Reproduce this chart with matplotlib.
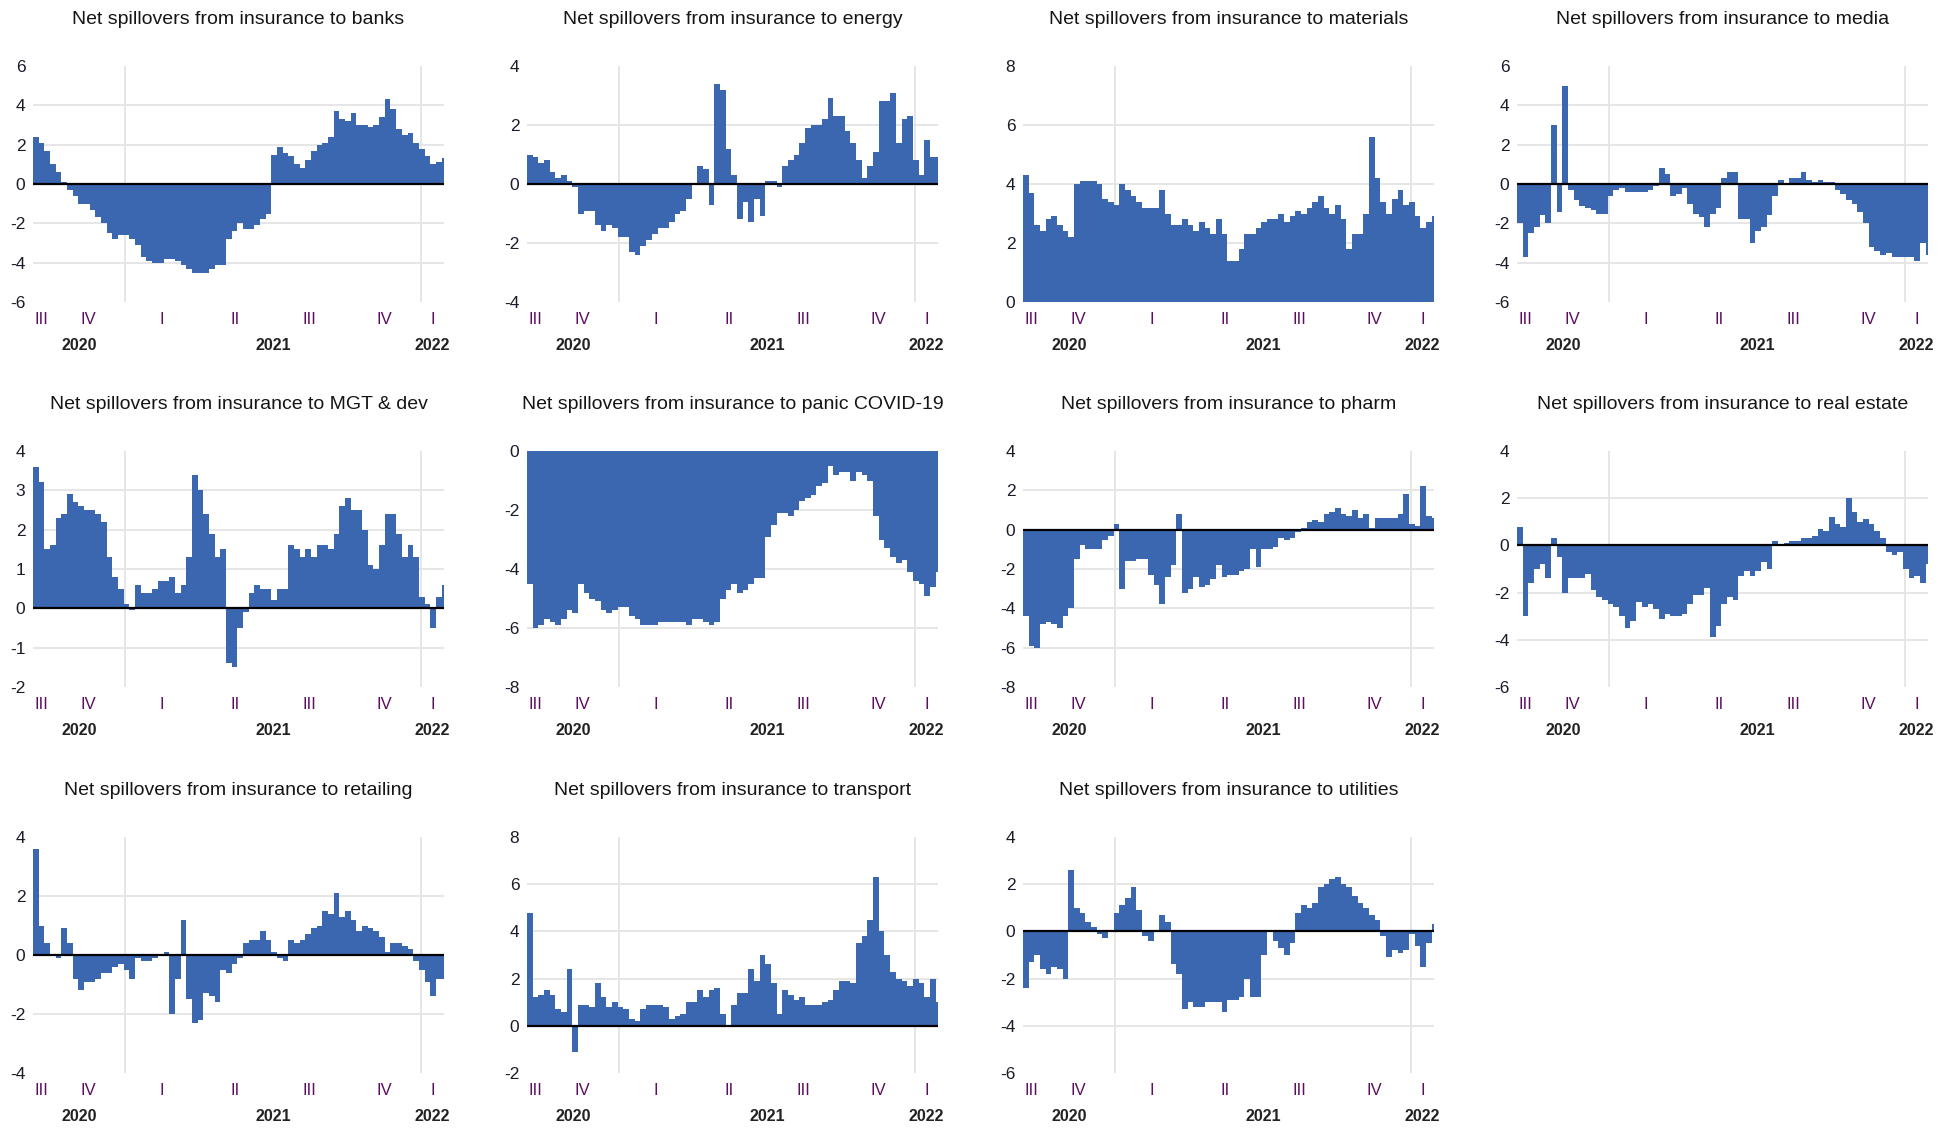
import pandas as pd
import numpy as np
import matplotlib
matplotlib.use("Agg")
import matplotlib.pyplot as plt
import matplotlib.dates as mdates

plt.rcParams['font.family'] = ['Liberation Sans', 'DejaVu Sans']

# weekly readings, Sep 2020 -> Jan 2022
start = pd.Timestamp('2020-09-09')
end = pd.Timestamp('2022-01-29')

banks = [2.4, 2.1, 1.7, 1.0, 0.6, 0.1, -0.3, -0.6, -1.0, -1.0,
         -1.3, -1.7, -2.0, -2.5, -2.8, -2.6, -2.6, -2.8, -3.1, -3.7,
         -3.9, -4.0, -4.0, -3.8, -3.8, -3.9, -4.1, -4.3, -4.5, -4.5,
         -4.5, -4.3, -4.1, -4.1, -2.8, -2.4, -2.0, -2.3, -2.3, -2.1,
         -1.8, -1.5, 1.5, 1.9, 1.6, 1.4, 1.0, 0.8, 1.2, 1.7,
         2.0, 2.1, 2.4, 3.7, 3.3, 3.2, 3.6, 3.0, 3.0, 2.9,
         3.0, 3.4, 4.3, 3.8, 2.8, 2.5, 2.6, 2.1, 1.8, 1.4,
         1.0, 1.1, 1.3]
energy = [1.0, 0.9, 0.7, 0.8, 0.4, 0.2, 0.3, 0.1, -0.1, -1.0,
          -0.9, -0.9, -1.4, -1.6, -1.4, -1.5, -1.8, -1.8, -2.3, -2.4,
          -2.1, -1.9, -1.7, -1.5, -1.5, -1.3, -1.0, -0.9, -0.5, 0.0,
          0.6, 0.5, -0.7, 3.4, 3.2, 1.2, 0.3, -1.2, -0.6, -1.3,
          -0.5, -1.1, 0.1, 0.1, -0.1, 0.6, 0.8, 1.0, 1.4, 1.9,
          2.0, 2.0, 2.2, 2.9, 2.3, 2.3, 1.8, 1.4, 0.8, 0.2,
          0.6, 1.1, 2.8, 2.8, 3.1, 1.4, 2.2, 2.3, 0.8, 0.3,
          1.5, 0.9, 0.9]
materials = [4.3, 3.7, 2.6, 2.4, 2.8, 2.9, 2.6, 2.4, 2.2, 4.0,
             4.1, 4.1, 4.1, 4.0, 3.5, 3.4, 3.3, 4.0, 3.8, 3.6,
             3.4, 3.2, 3.2, 3.2, 3.8, 3.0, 2.6, 2.6, 2.8, 2.6,
             2.4, 2.7, 2.5, 2.3, 2.8, 2.3, 1.4, 1.4, 1.8, 2.3,
             2.3, 2.5, 2.7, 2.8, 2.8, 3.0, 2.7, 2.9, 3.1, 3.0,
             3.2, 3.4, 3.6, 3.2, 3.0, 3.3, 2.8, 1.8, 2.3, 2.3,
             3.0, 5.6, 4.2, 3.4, 3.0, 3.5, 3.8, 3.3, 3.4, 2.9,
             2.5, 2.7, 2.9]
media = [-2.0, -3.7, -2.5, -2.2, -1.6, -2.0, 3.0, -1.4, 5.0, -0.3,
         -0.8, -1.1, -1.2, -1.3, -1.5, -1.5, -0.6, -0.3, -0.2, -0.4,
         -0.4, -0.4, -0.4, -0.3, -0.1, 0.8, 0.5, -0.6, -0.5, -0.2,
         -1.0, -1.5, -1.7, -2.2, -1.5, -1.2, 0.3, 0.6, 0.6, -1.8,
         -1.8, -3.0, -2.4, -2.2, -1.6, -0.6, 0.2, 0.0, 0.3, 0.3,
         0.6, 0.2, 0.1, 0.2, 0.1, 0.1, -0.3, -0.5, -0.8, -1.0,
         -1.4, -2.0, -3.2, -3.4, -3.6, -3.5, -3.7, -3.7, -3.7, -3.7,
         -3.9, -3.0, -3.6]
mgt_dev = [3.6, 3.2, 1.5, 1.6, 2.3, 2.4, 2.9, 2.7, 2.6, 2.5,
           2.5, 2.4, 2.2, 1.3, 0.8, 0.5, 0.1, -0.05, 0.6, 0.4,
           0.4, 0.5, 0.7, 0.7, 0.8, 0.4, 0.6, 1.3, 3.4, 3.0,
           2.4, 1.9, 1.3, 1.5, -1.4, -1.5, -0.5, -0.1, 0.4, 0.6,
           0.5, 0.5, 0.2, 0.5, 0.5, 1.6, 1.5, 1.3, 1.5, 1.3,
           1.6, 1.6, 1.5, 1.9, 2.6, 2.8, 2.5, 2.5, 2.0, 1.1,
           1.0, 1.6, 2.4, 2.4, 1.9, 1.3, 1.6, 1.3, 0.3, 0.1,
           -0.5, 0.3, 0.6]
panic = [-4.5, -6.0, -5.9, -5.7, -5.8, -5.9, -5.7, -5.4, -5.5, -4.5,
         -4.8, -5.0, -5.1, -5.4, -5.5, -5.4, -5.3, -5.3, -5.6, -5.7,
         -5.9, -5.9, -5.9, -5.8, -5.8, -5.8, -5.8, -5.8, -5.9, -5.7,
         -5.7, -5.8, -5.9, -5.8, -5.0, -4.7, -4.5, -4.8, -4.7, -4.5,
         -4.3, -4.3, -2.9, -2.5, -2.1, -2.1, -2.2, -2.0, -1.7, -1.6,
         -1.5, -1.2, -1.1, -0.5, -0.8, -0.7, -0.7, -1.0, -0.7, -0.8,
         -1.0, -2.2, -3.0, -3.3, -3.6, -3.8, -3.7, -4.1, -4.4, -4.5,
         -4.9, -4.6, -4.1]
pharm = [-4.4, -5.9, -6.0, -4.8, -4.7, -4.8, -5.0, -4.4, -4.0, -1.5,
         -0.8, -1.0, -1.0, -1.0, -0.5, -0.3, 0.3, -3.0, -1.6, -1.6,
         -1.5, -1.5, -2.3, -2.8, -3.8, -2.4, -1.8, 0.8, -3.2, -3.0,
         -2.4, -2.9, -2.8, -2.5, -1.8, -2.4, -2.3, -2.3, -2.1, -2.0,
         -1.0, -1.9, -1.0, -1.0, -0.9, -0.4, -0.5, -0.4, -0.1, 0.1,
         0.4, 0.5, 0.4, 0.8, 0.9, 1.1, 0.8, 0.7, 1.0, 0.6,
         0.8, 0.1, 0.6, 0.6, 0.6, 0.6, 0.8, 1.8, 0.3, 0.2,
         2.2, 0.7, 0.6]
real_estate = [0.8, -3.0, -1.6, -1.0, -0.8, -1.4, 0.3, -0.5, -2.0, -1.4,
               -1.4, -1.4, -1.2, -1.9, -2.2, -2.3, -2.5, -2.6, -3.0, -3.5,
               -3.2, -2.4, -2.6, -2.5, -2.7, -3.1, -2.9, -3.0, -3.0, -2.9,
               -2.5, -2.1, -2.1, -1.8, -3.9, -3.4, -2.5, -2.2, -2.3, -1.3,
               -1.1, -1.3, -1.1, -0.7, -1.0, 0.2, 0.0, 0.1, 0.2, 0.2,
               0.3, 0.3, 0.4, 0.7, 0.6, 1.2, 0.9, 0.8, 2.0, 1.4,
               1.0, 1.1, 0.9, 0.6, 0.3, -0.3, -0.4, -0.3, -1.0, -1.4,
               -1.3, -1.6, -0.8]
retailing = [3.6, 1.0, 0.4, 0.0, -0.1, 0.9, 0.4, -0.8, -1.2, -0.9,
             -0.9, -0.8, -0.6, -0.6, -0.4, -0.3, -0.5, -0.8, -0.1, -0.2,
             -0.2, -0.1, 0.0, 0.1, -2.0, -0.8, 1.2, -1.5, -2.3, -2.2,
             -1.3, -1.4, -1.6, -0.5, -0.6, -0.3, -0.1, 0.4, 0.5, 0.5,
             0.8, 0.5, 0.1, -0.1, -0.2, 0.5, 0.4, 0.5, 0.7, 0.9,
             1.0, 1.5, 1.4, 2.1, 1.3, 1.5, 1.2, 0.8, 1.0, 0.9,
             0.8, 0.6, 0.1, 0.4, 0.4, 0.3, 0.2, -0.2, -0.5, -0.9,
             -1.4, -0.8, -0.8]
transport = [4.8, 1.2, 1.3, 1.5, 1.3, 0.7, 0.6, 2.4, -1.1, 0.9,
             0.9, 0.8, 1.8, 1.2, 0.8, 1.0, 0.8, 0.7, 0.3, 0.2,
             0.7, 0.9, 0.9, 0.9, 0.8, 0.3, 0.4, 0.5, 1.0, 1.0,
             1.5, 1.2, 1.5, 1.6, 0.5, 0.0, 0.9, 1.4, 1.4, 2.4,
             1.9, 3.0, 2.6, 1.8, 0.5, 1.5, 1.3, 1.1, 1.2, 0.9,
             0.9, 0.9, 1.0, 1.1, 1.5, 1.9, 1.9, 1.8, 3.5, 3.8,
             4.5, 6.3, 4.0, 3.0, 2.3, 2.0, 1.9, 1.7, 2.0, 1.8,
             1.2, 2.0, 1.0]
utilities = [-2.4, -1.3, -1.0, -1.6, -1.8, -1.5, -1.6, -2.0, 2.6, 1.0,
             0.8, 0.4, 0.2, -0.1, -0.3, 0.0, 0.8, 1.1, 1.4, 1.9,
             0.9, -0.2, -0.4, 0.0, 0.7, 0.4, -1.4, -1.8, -3.3, -3.0,
             -3.2, -3.2, -3.0, -3.0, -3.0, -3.4, -2.9, -2.9, -2.8, -2.0,
             -2.8, -2.8, -1.0, 0.0, -0.4, -0.7, -1.0, -0.5, 0.8, 1.1,
             1.0, 1.2, 1.9, 2.0, 2.2, 2.3, 2.0, 1.9, 1.5, 1.2,
             1.0, 0.7, 0.5, -0.2, -1.1, -0.8, -0.9, -0.8, -0.1, -0.6,
             -1.5, -0.5, 0.3]

titles = ['banks', 'energy', 'materials', 'media', 'MGT & dev', 'panic COVID-19',
          'pharm', 'real estate', 'retailing', 'transport', 'utilities']
series = [banks, energy, materials, media, mgt_dev, panic, pharm,
          real_estate, retailing, transport, utilities]
ylims = [(-6, 6, 2), (-4, 4, 2), (0, 8, 2), (-6, 6, 2), (-2, 4, 1), (-8, 0, 2),
         (-8, 4, 2), (-6, 4, 2), (-4, 4, 2), (-2, 8, 2), (-6, 4, 2)]

quarters = [('III', '2020-07-01', '2020-10-01'), ('IV', '2020-10-01', '2021-01-01'),
            ('I', '2021-01-01', '2021-04-01'), ('II', '2021-04-01', '2021-07-01'),
            ('III', '2021-07-01', '2021-10-01'), ('IV', '2021-10-01', '2022-01-01'),
            ('I', '2022-01-01', '2022-04-01')]
years = [('2020', '2020-01-01', '2021-01-01'), ('2021', '2021-01-01', '2022-01-01'),
         ('2022', '2022-01-01', '2023-01-01')]

BLUE = '#3a67b0'
GRID = '#e4e4e4'

W, H = 1957, 1129
col_left = [33, 527, 1023, 1517]
row_top = [66, 451, 837]
aw, ah = 411, 236

fig = plt.figure(figsize=(W / 100, H / 100), dpi=100)
x0, x1 = mdates.date2num(start), mdates.date2num(end)


def mid_visible(a, b):
    a = max(mdates.date2num(pd.Timestamp(a)), x0)
    b = min(mdates.date2num(pd.Timestamp(b)), x1)
    return (a + b) / 2


for k, (name, vals, (lo, hi, step)) in enumerate(zip(titles, series, ylims)):
    r, c = divmod(k, 4)
    ax = fig.add_axes([col_left[c] / W, 1 - (row_top[r] + ah) / H, aw / W, ah / H])
    dates = pd.date_range(start, periods=len(vals), freq='7D')
    ax.bar(dates, vals, width=7, align='edge', color=BLUE, linewidth=0, zorder=2)
    ax.set_xlim(start, end)
    ax.set_ylim(lo, hi)
    ticks = np.arange(lo, hi + step / 2, step)
    ax.set_yticks(ticks)
    ax.set_yticklabels([str(int(t)) for t in ticks])
    for t in ticks:
        if lo < t < hi and t != 0:
            ax.axhline(t, color=GRID, lw=1.3, zorder=0)
    if lo < 0 < hi:
        ax.axhline(0, color='black', lw=1.6, zorder=3)
    for y in ['2021-01-01', '2022-01-01']:
        ax.axvline(pd.Timestamp(y), color=GRID, lw=1.3, zorder=0)
    for s in ax.spines.values():
        s.set_visible(False)
    ax.set_xticks([])
    ax.tick_params(axis='y', left=False, labelsize=12.5, pad=2, labelcolor='#1b1b2b')

    for lab, a, b in quarters:
        ax.text(mid_visible(a, b), -0.075, lab, transform=ax.get_xaxis_transform(),
                ha='center', va='center', fontsize=12, color='#5b0f5e')
    for lab, a, b in years:
        ax.text(mid_visible(a, b), -0.185, lab, transform=ax.get_xaxis_transform(),
                ha='center', va='center', fontsize=11.5, fontweight='bold', color='#222222')

    ax.text(0.5, 1.195, 'Net spillovers from insurance to ' + name, transform=ax.transAxes,
            ha='center', va='center', fontsize=14, color='#151515')

fig.savefig('out.png', dpi=100)
